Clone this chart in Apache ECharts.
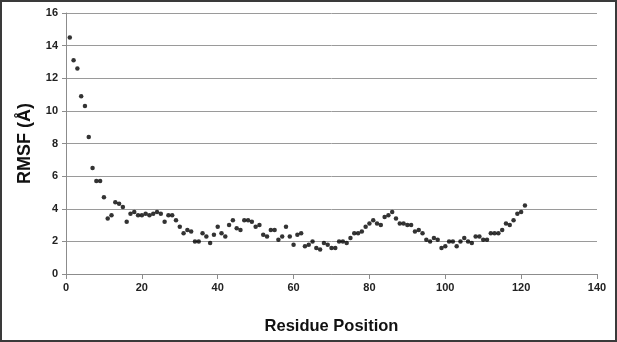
<!DOCTYPE html>
<html>
<head>
<meta charset="utf-8">
<script src="https://cdn.jsdelivr.net/npm/echarts@6/dist/echarts.min.js"></script>
<style>
    html, body { margin: 0; padding: 0; background: #fff; }
    #chart { width: 617px; height: 342px; }
    #frame { position: absolute; left: 0; top: 0; width: 617px; height: 342px;
             box-sizing: border-box; border: 2px solid #3a3a3a; pointer-events: none; }
</style>
</head>
<body>
<div id="chart"></div>
<div id="frame"></div>
<script>
    // RMSF per residue, residues 1..121
    var rmsf = [
        14.5, 13.1, 12.6, 10.9, 10.3, 8.4, 6.5, 5.7, 5.7, 4.7,
        3.4, 3.6, 4.4, 4.3, 4.1, 3.2, 3.7, 3.8, 3.6, 3.6,
        3.7, 3.6, 3.7, 3.8, 3.7, 3.2, 3.6, 3.6, 3.3, 2.9,
        2.5, 2.7, 2.6, 2.0, 2.0, 2.5, 2.3, 1.9, 2.4, 2.9,
        2.5, 2.3, 3.0, 3.3, 2.8, 2.7, 3.3, 3.3, 3.2, 2.9,
        3.0, 2.4, 2.3, 2.7, 2.7, 2.1, 2.3, 2.9, 2.3, 1.8,
        2.4, 2.5, 1.7, 1.8, 2.0, 1.6, 1.5, 1.9, 1.8, 1.6,
        1.6, 2.0, 2.0, 1.9, 2.2, 2.5, 2.5, 2.6, 2.9, 3.1,
        3.3, 3.1, 3.0, 3.5, 3.6, 3.8, 3.4, 3.1, 3.1, 3.0,
        3.0, 2.6, 2.7, 2.5, 2.1, 2.0, 2.2, 2.1, 1.6, 1.7,
        2.0, 2.0, 1.7, 2.0, 2.2, 2.0, 1.9, 2.3, 2.3, 2.1,
        2.1, 2.5, 2.5, 2.5, 2.7, 3.1, 3.0, 3.3, 3.7, 3.8,
        4.2
    ];
    var xTicks = [0, 140, 20];   // min, max, step
    var yTicks = [0, 16, 2];

    var points = [];
    for (var i = 0; i < rmsf.length; i++) {
        points.push([i + 1, rmsf[i]]);
    }

    var myChart = echarts.init(document.getElementById('chart'));
    var labelFont = {
        color: '#222',
        fontFamily: 'Liberation Sans, Arial, sans-serif',
        fontWeight: 'bold',
        fontSize: 11
    };
    var option = {
        animation: false,
        backgroundColor: '#fff',
        grid: {left: 66, right: 20, top: 13, bottom: 68},
        xAxis: {
            type: 'value',
            min: xTicks[0], max: xTicks[1], interval: xTicks[2],
            name: 'Residue Position',
            nameLocation: 'middle',
            nameGap: 44,
            nameTextStyle: {
                color: '#111', fontFamily: 'Liberation Sans, Arial, sans-serif',
                fontWeight: 'bold', fontSize: 16.5
            },
            axisLine: {lineStyle: {color: '#8c8c8c', width: 1}},
            axisTick: {show: true, inside: false, length: 5, lineStyle: {color: '#8c8c8c'}},
            axisLabel: labelFont,
            splitLine: {show: false}
        },
        yAxis: {
            type: 'value',
            min: yTicks[0], max: yTicks[1], interval: yTicks[2],
            name: 'RMSF (Å)',
            nameLocation: 'middle',
            nameGap: 32,
            nameTextStyle: {
                color: '#111', fontFamily: 'Liberation Sans, Arial, sans-serif',
                fontWeight: 'bold', fontSize: 18
            },
            axisLine: {show: true, lineStyle: {color: '#8c8c8c', width: 1}},
            axisTick: {show: true, inside: false, length: 4, lineStyle: {color: '#8c8c8c'}},
            axisLabel: labelFont,
            splitLine: {show: true, lineStyle: {color: '#9a9a9a', width: 1}}
        },
        series: [
            {
                type: 'scatter',
                data: points,
                symbol: 'circle',
                symbolSize: 4.5,
                itemStyle: {color: '#000'}
            }
        ]
    };
    myChart.setOption(option);
</script>
</body>
</html>
